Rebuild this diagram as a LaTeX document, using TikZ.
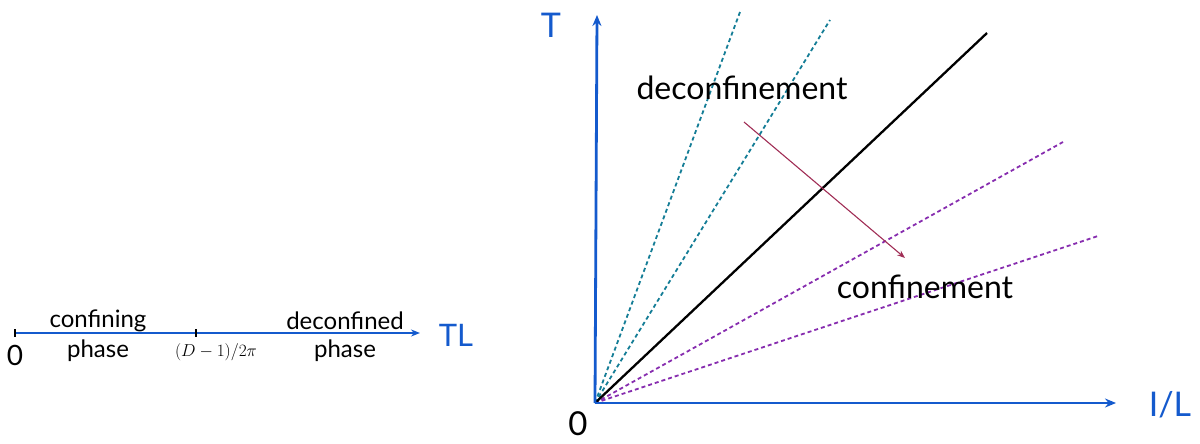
\documentclass[tikz,border=0pt]{standalone}
\usepackage{fontspec}
\setmainfont{Lato}
\usetikzlibrary{arrows.meta,positioning,calc}

\begin{document}
\begin{tikzpicture}[
  x=1pt, y=-1pt,
  lbl/.style={font=\fontsize{32}{34}\selectfont, inner sep=0pt},
  small/.style={font=\fontsize{24}{26}\selectfont, inner sep=0pt},
  axlbl/.style={font=\fontsize{34}{36}\selectfont, text=axblue, inner sep=0pt},
  axis/.style={draw=axblue, line width=2.8pt, -{Stealth[length=11pt,width=9pt]}},
  crit/.style={draw=black, line width=2.3pt},
  hot/.style={draw=tealc, line width=1.8pt, dash pattern=on 4pt off 3pt},
  cold/.style={draw=purpc, line width=1.8pt, dash pattern=on 4pt off 3pt},
  >=Stealth
]
  \definecolor{axblue}{RGB}{20,90,205}
  \definecolor{tealc}{RGB}{20,125,150}
  \definecolor{purpc}{RGB}{135,45,175}
  \definecolor{flow}{RGB}{160,45,85}
  \useasboundingbox (0,0) rectangle (1200,444);

  % TL line
  \coordinate (t0) at (15,333);
  \coordinate (tc) at (196,333);
  \coordinate (tend) at (420,333);
  \draw[draw=axblue, line width=2pt, -{Stealth[length=9pt,width=7pt]}] (t0) -- (tend);
  \draw[line width=1.3pt] ($(t0)+(0,-4)$) -- ($(t0)+(0,4)$);
  \draw[line width=1.3pt] ($(tc)+(0,-4)$) -- ($(tc)+(0,4)$);
  \node[font=\fontsize{28}{30}\selectfont, inner sep=0pt] (zero1) at (15,355) {0};
  \node[small] (conf) at (98,321) {confining};
  \node[small] (cph) at (98,351) {phase};
  \node[font=\fontsize{17}{19}\selectfont, inner sep=0pt] (tcl) at (216,352) {$(D-1)/2\pi$};
  \node[small] (dconf) at (345,321) {deconfined};
  \node[small] (dph) at (345,351) {phase};
  \node[axlbl, font=\fontsize{31}{33}\selectfont] (tl) at (456,335) {TL};

  % T vs 1/L plane
  \coordinate (o) at (595,403);
  \coordinate (ytop) at (597,15);
  \coordinate (xend) at (1116,403);
  \draw[hot] (o) -- (740,12);
  \draw[hot] (o) -- (830,20);
  \draw[cold] (o) -- (1063,142);
  \draw[cold] (o) -- (1098,236);
  \draw[crit] (o) -- (987,33);
  \draw[axis] (o) -- (ytop);
  \draw[axis] (o) -- (xend);
  \node[axlbl] (tlab) at (551,25) {T};
  \node[axlbl] (invl) at (1170,405) {I/L};
  \node[font=\fontsize{33}{35}\selectfont, inner sep=0pt] (zero2) at (578,424) {0};
  \node[lbl] (deconf) at (742,88) {deconfinement};
  \node[lbl] (confn) at (925,287) {confinement};

  % flow arrow
  \coordinate (fa) at (744,122);
  \coordinate (fb) at (905,258);
  \draw[draw=flow, line width=1.1pt, -{Stealth[length=8pt,width=6pt]}] (fa) -- (fb);
\end{tikzpicture}
\end{document}
